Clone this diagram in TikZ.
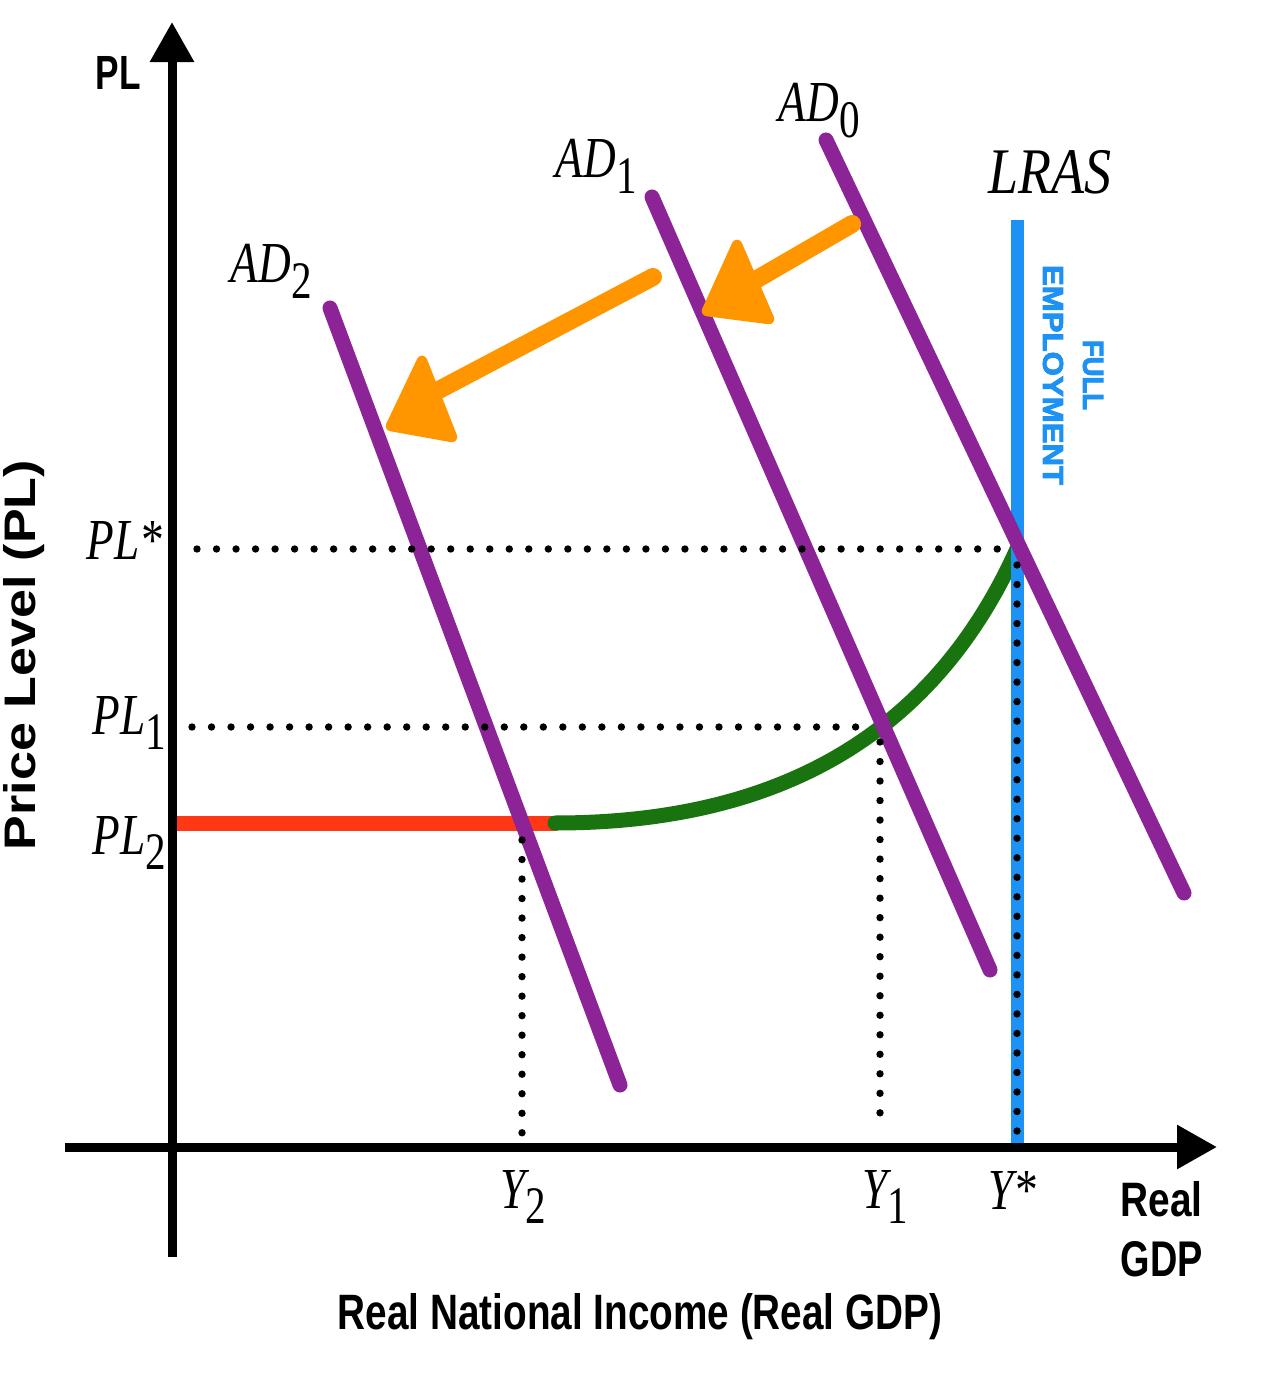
\documentclass[tikz,border=0pt]{standalone}
\usepackage{fontspec}
\setmainfont{Liberation Serif}
\setsansfont{Liberation Sans}
\newfontfamily\heavysans{Liberation Sans Bold}[FakeBold=3]
\usepackage{graphicx}
\usetikzlibrary{arrows.meta}
\definecolor{adpurple}{RGB}{140,35,150}
\definecolor{srgreen}{RGB}{25,115,15}
\definecolor{srred}{RGB}{255,55,20}
\definecolor{lrblue}{RGB}{30,145,245}
\definecolor{shorange}{RGB}{255,150,0}
\newcommand\boldlab[3]{\resizebox{#1}{#2}{\sffamily\bfseries #3}}
\newcommand\heavylab[3]{\resizebox{#1}{#2}{\heavysans #3}}
\newcommand\curvelab[2]{\scalebox{0.78}[1]{\fontsize{16.5}{16.5}\selectfont\itshape #1\raisebox{-4.5pt}{\fontsize{15}{15}\selectfont\upshape #2}}}
\tikzset{
  axis/.style={line width=0.09cm, -{Triangle[length=0.40cm,width=0.42cm]}},
  adline/.style={adpurple, line width=0.15cm, line cap=round},
  crayon/.style={line width=0.15cm, line cap=round},
  dotline/.style={line width=2.1pt, line cap=round, dash pattern=on 0pt off 5.55pt},
  shift arrow/.style={shorange, line width=0.18cm, line cap=round},
  shift head/.style={fill=shorange, draw=shorange, line width=3pt, line join=round},
  lab/.style={inner sep=0pt, anchor=base west},
}
\begin{document}
\begin{tikzpicture}[x=0.01cm,y=-0.01cm]
\useasboundingbox (0,0) rectangle (1270,1383);
% key coordinates
\coordinate (Estar) at (1017,549);
\coordinate (E1) at (880,727);
\coordinate (E2) at (522,823);
\coordinate (kink) at (555,823);
% short-run supply: red flat part and green rising part
\draw[crayon, srred] (178,823) -- (kink);
\draw[crayon, srgreen] (kink) .. controls (782,823) and (935,732) .. (Estar);
% LRAS
\draw[crayon, lrblue, line width=0.13cm, line cap=butt] (1017,220) -- (1017,1148);
% AD curves
\draw[adline] (826,140) -- (1184,893);
\draw[adline] (652,197) -- (990,970);
\draw[adline] (330,308) -- (620,1085);
% shift arrows
\draw[shift arrow] (852,224) -- (752,282);
\fill[shift head] (737,245) -- (707,311) -- (769,319) -- cycle;
\draw[shift arrow] (653,277) -- (435,392);
\fill[shift head] (422,361) -- (391,426) -- (452,437) -- cycle;
% dotted guides
\draw[dotline] (197,549) -- (1000,549);
\draw[dotline] (1017,565) -- (1017,1140);
\draw[dotline] (192,727) -- (865,727);
\draw[dotline] (880,742) -- (880,1128);
\draw[dotline] (522,840) -- (522,1133);
% axes
\draw[axis] (172,1257) -- (172,22);
\draw[axis] (65,1147) -- (1217,1147);
% axis labels
\node[inner sep=0pt, anchor=south west] (pl) at (95,90) {\boldlab{0.45cm}{0.33cm}{PL}};
\node[inner sep=0pt, anchor=south west] (real) at (1120,1218) {\boldlab{0.82cm}{0.35cm}{Real}};
\node[inner sep=0pt, anchor=south west] (gdp) at (1120,1278) {\boldlab{0.82cm}{0.35cm}{GDP}};
\node[inner sep=0pt, anchor=south] (xtitle) at (640,1340) {\boldlab{6.04cm}{0.36cm}{Real National Income (Real GDP)}};
\node[inner sep=0pt, anchor=south, rotate=90] (ytitle) at (45,655) {\boldlab{3.9cm}{0.32cm}{Price Level (PL)}};
% full employment
\node[inner sep=0pt, rotate=-90, lrblue] (emp) at (1053,375) {\heavylab{2.2cm}{0.2cm}{EMPLOYMENT}};
\node[inner sep=0pt, rotate=-90, lrblue] (full) at (1093,375) {\heavylab{0.7cm}{0.2cm}{FULL}};
% curve labels
\node[lab] (ad0) at (778,122) {\curvelab{AD}{0}};
\node[lab] (ad1) at (555,178) {\curvelab{AD}{1}};
\node[lab] (ad2) at (230,283) {\curvelab{AD}{2}};
\node[lab] (lras) at (988,194) {\scalebox{0.83}[1]{\fontsize{18.5}{18.5}\selectfont\itshape LRAS}};
% price labels
\node[lab] (plstar) at (86,560) {\curvelab{PL*}{}};
\node[lab] (pl1) at (92,734) {\curvelab{PL}{1}};
\node[lab] (pl2) at (92,854) {\curvelab{PL}{2}};
% output labels
\node[lab] (y2) at (500,1208) {\curvelab{Y}{2}};
\node[lab] (y1) at (862,1208) {\curvelab{Y}{1}};
\node[lab] (ystar) at (988,1209) {\curvelab{Y*}{}};
\end{tikzpicture}
\end{document}
